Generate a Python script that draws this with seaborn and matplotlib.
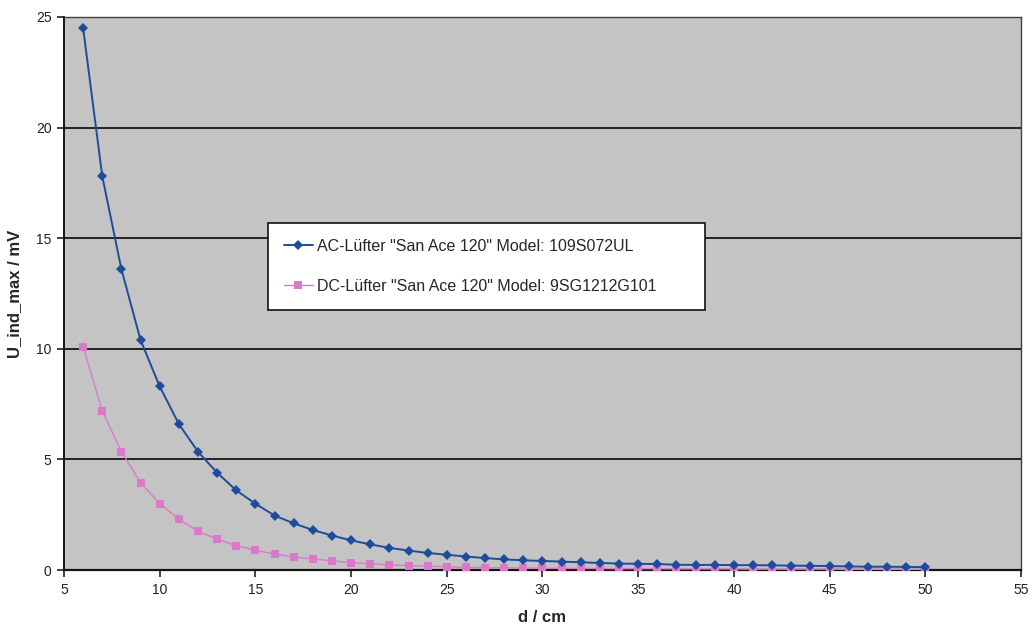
import numpy as np
import pandas as pd
import matplotlib
matplotlib.use("Agg")
import matplotlib.pyplot as plt
import seaborn as sns

# Distance between fan and pickup coil, in cm
distance_cm = list(range(6, 51))

# Maximum induced voltage for the AC fan (mV)
ac_fan_mv = [24.5, 17.8, 13.6, 10.4, 8.3, 6.6, 5.35, 4.4, 3.6, 3.0,
             2.46, 2.11, 1.81, 1.56, 1.34, 1.16, 1.0, 0.88, 0.77, 0.69,
             0.61, 0.54, 0.48, 0.44, 0.41, 0.38, 0.35, 0.32, 0.29, 0.28,
             0.27, 0.24, 0.23, 0.23, 0.22, 0.22, 0.21, 0.2, 0.19, 0.18,
             0.16, 0.15, 0.15, 0.14, 0.13]

# Maximum induced voltage for the DC fan (mV)
dc_fan_mv = [10.1, 7.2, 5.35, 3.95, 3.0, 2.3, 1.75, 1.4, 1.1, 0.9,
             0.72, 0.59, 0.5, 0.42, 0.33, 0.29, 0.23, 0.2, 0.17, 0.15,
             0.12, 0.11, 0.1, 0.09, 0.08, 0.08, 0.07, 0.07, 0.06, 0.06,
             0.06, 0.05, 0.05, 0.05, 0.05, 0.04, 0.04, 0.04, 0.04, 0.04,
             0.03, 0.03, 0.03, 0.03, 0.03]

series_labels = ['AC-Lüfter "San Ace 120" Model: 109S072UL',
                 'DC-Lüfter "San Ace 120" Model: 9SG1212G101']

x_ticks = [5, 10, 15, 20, 25, 30, 35, 40, 45, 50, 55]
y_ticks = [0, 5, 10, 15, 20, 25]

sns.set_theme(style="white")
plt.rcParams['font.family'] = ['Liberation Sans', 'DejaVu Sans']

fig = plt.figure(figsize=(10.35, 6.3), dpi=100)
fig.patch.set_facecolor("white")
ax = fig.add_axes([0.0618, 0.0952, 0.9247, 0.878])
ax.set_facecolor("#c4c4c4")

df = pd.DataFrame({"d": distance_cm, "ac": ac_fan_mv, "dc": dc_fan_mv})

sns.lineplot(data=df, x="d", y="ac", ax=ax, color="#1d4c9c", linewidth=1.4,
             marker="D", markersize=4.8, markeredgewidth=0,
             label=series_labels[0], zorder=4)
sns.lineplot(data=df, x="d", y="dc", ax=ax, color="#dc78c8", linewidth=1.0,
             marker="s", markersize=5.5, markeredgewidth=0,
             label=series_labels[1], zorder=3)

ax.set_xlim(5, 55)
ax.set_ylim(0, 25)
ax.set_xticks(x_ticks)
ax.set_yticks(y_ticks)
ax.tick_params(axis="both", direction="out", length=5, width=1.2,
               colors="#202020", labelsize=10, pad=4)
ax.tick_params(axis="x", bottom=True)
ax.tick_params(axis="y", left=True)

# Horizontal black gridlines
for yv in y_ticks[1:-1]:
    ax.axhline(yv, color="#151515", linewidth=1.3, zorder=1)

for side, sp in ax.spines.items():
    sp.set_visible(True)
    sp.set_color("#404040")
    sp.set_linewidth(1.0)
ax.spines["left"].set_color("#151515")
ax.spines["left"].set_linewidth(1.4)
ax.spines["bottom"].set_color("#151515")
ax.spines["bottom"].set_linewidth(1.6)

ax.set_xlabel("d / cm", fontsize=12, fontweight="bold", labelpad=10)
ax.set_ylabel("U_ind_max / mV", fontsize=12, fontweight="bold", labelpad=10)

leg = ax.legend(loc="lower left", bbox_to_anchor=(0.213, 0.47, 0.457, 0.156),
                mode="expand", fontsize=11.5, frameon=True, fancybox=False,
                handlelength=1.8, handletextpad=0.3, labelspacing=1.6,
                borderpad=1.0, borderaxespad=0)
leg.get_frame().set_edgecolor("#101010")
leg.get_frame().set_linewidth(1.2)
leg.get_frame().set_facecolor("white")
leg.get_frame().set_alpha(1.0)

fig.savefig("out.png", dpi=100, facecolor="white")
